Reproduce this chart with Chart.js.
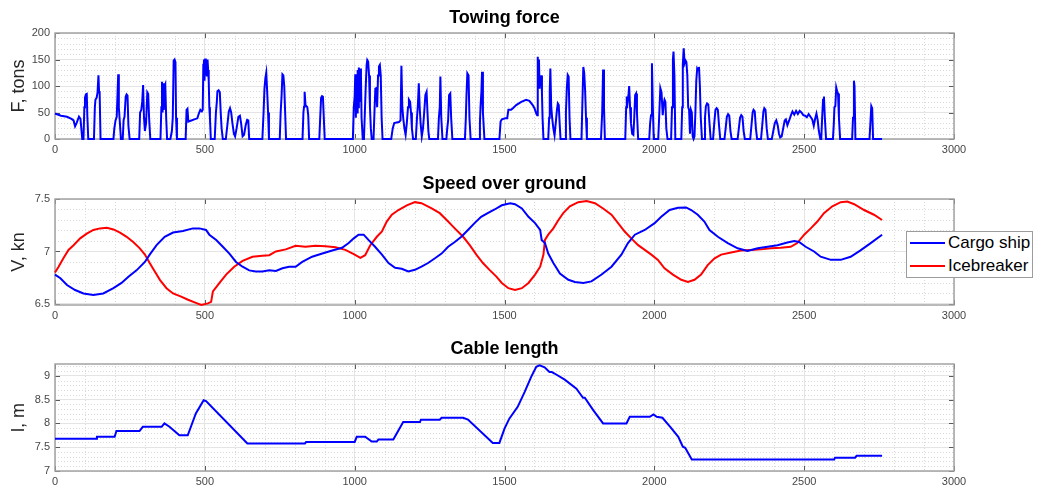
<!DOCTYPE html>
<html>
<head>
<meta charset="utf-8">
<script src="https://cdn.jsdelivr.net/npm/chart.js@4.4.1/dist/chart.umd.min.js"></script>
<style>
  html, body { margin: 0; padding: 0; background: #fff; }
  #wrap { position: relative; width: 1046px; height: 491px; overflow: hidden; background: #fff; }
  #wrap canvas { position: absolute; left: 0; }
  #legend {
    position: absolute; left: 906px; top: 231px; width: 127px; height: 47px;
    box-sizing: border-box; border: 1px solid #9c9c9c; background: #fff;
    font-family: 'Liberation Sans', Arial, Helvetica, sans-serif; font-size: 17px; color: #000;
  }
  #legend .row { display: flex; align-items: center; height: 22.6px; white-space: nowrap; }
  #legend .swatch { width: 35px; height: 2px; margin: 0 3px 0 3px; flex: none; }
</style>
</head>
<body>
<div id="wrap">
  <canvas id="forceChart" width="1046" height="159" style="top:0px"></canvas>
  <canvas id="speedChart" width="1046" height="166" style="top:159px"></canvas>
  <canvas id="cableChart" width="1046" height="166" style="top:325px"></canvas>
  <div id="legend"></div>
</div>
<script>
// Time axis shared by all three panels
const timeTicks = [0, 500, 1000, 1500, 2000, 2500, 3000];

// Towing force, tons: [time, force]
const towingForce = [
  [0,48],[20,44],[40,42],[55,38],[62,35],[67,24],[72,30],[80,42],[85,38],[91,0],
  [95,0],[98,60],[100,78],[103,84],[106,85],[108,42],[111,0],
  [130,0],[133,60],[135,74],[139,78],[142,88],[145,120],[147,90],[149,85],[152,0],
  [195,0],[198,20],[202,35],[206,42],[209,90],[211,122],[213,60],[216,35],[220,0],
  [226,0],[229,36],[232,42],[236,80],[239,84],[242,82],[245,25],[249,0],
  [281,0],[284,50],[288,55],[291,70],[294,102],[297,40],[300,15],[304,30],[308,88],[311,85],[314,40],[318,0],
  [352,0],[355,60],[357,108],[359,50],[361,105],[363,55],[366,100],[368,103],[371,40],[374,0],
  [385,0],[390,15],[393,40],[396,148],[399,150],[402,145],[404,40],[407,0],
  [436,0],[439,55],[442,57],[445,33],[455,35],[465,37],[475,39],[480,48],[485,55],[490,52],[493,55],
  [495,140],[497,150],[499,110],[501,152],[503,120],[505,150],[507,118],[509,150],[511,130],[513,110],[515,60],[517,40],[520,0],
  [533,0],[537,50],[540,70],[542,90],[546,92],[550,88],[553,50],[556,20],[560,0],
  [570,0],[575,25],[580,52],[584,58],[588,50],[592,30],[597,10],[601,5],[606,20],[612,42],[617,44],[621,30],[626,5],[631,8],[636,25],[641,36],[645,35],[648,0],
  [692,0],[696,50],[699,95],[702,115],[705,125],[708,90],[711,50],[714,0],
  [750,0],[753,50],[756,80],[759,122],[762,120],[765,100],[768,50],[771,0],
  [826,0],[829,50],[831,61],[833,89],[836,64],[839,62],[842,60],[845,45],[848,0],
  [882,0],[885,40],[888,78],[891,81],[894,80],[897,40],[900,0],
  [994,0],[997,60],[1000,80],[1002,122],[1004,40],[1006,118],[1008,50],[1010,130],[1012,60],[1014,135],[1016,70],[1018,133],[1021,120],[1023,40],[1027,0],
  [1031,0],[1034,50],[1037,100],[1040,140],[1042,149],[1045,146],[1048,120],[1051,60],[1054,20],[1057,0],
  [1063,0],[1066,50],[1069,95],[1072,96],[1075,60],[1078,120],[1081,137],[1084,140],[1087,120],[1090,40],[1093,0],
  [1122,0],[1127,20],[1132,30],[1140,31],[1148,32],[1153,35],[1156,138],[1159,60],[1162,40],[1166,20],[1170,8],[1174,30],[1178,60],[1181,74],[1185,70],[1188,50],[1191,20],[1195,0],
  [1204,0],[1208,40],[1211,64],[1214,105],[1217,60],[1220,30],[1224,5],[1228,20],[1232,50],[1236,83],[1240,89],[1243,50],[1246,15],[1249,0],
  [1278,0],[1281,40],[1284,60],[1286,118],[1289,40],[1293,0],
  [1306,0],[1309,20],[1312,36],[1315,83],[1319,86],[1322,40],[1326,0],
  [1368,0],[1371,40],[1373,80],[1376,124],[1380,120],[1383,40],[1387,0],
  [1415,0],[1418,30],[1420,61],[1423,90],[1425,127],[1428,50],[1433,0],
  [1483,0],[1487,33],[1491,37],[1503,39],[1509,39],[1513,55],[1522,55],[1528,58],[1539,64],[1556,70],[1572,74],[1583,72],[1594,64],[1600,58],[1606,48],[1609,45],
  [1611,155],[1613,110],[1615,150],[1617,95],[1619,118],[1621,100],[1623,120],[1625,86],[1627,40],[1630,0],
  [1646,0],[1649,40],[1651,90],[1653,133],[1656,60],[1659,40],[1663,20],[1667,7],[1671,30],[1675,55],[1678,67],[1681,64],[1684,30],[1687,0],
  [1702,0],[1705,50],[1708,96],[1711,121],[1714,118],[1717,40],[1720,0],
  [1757,0],[1760,70],[1763,136],[1766,125],[1769,92],[1772,40],[1775,0],
  [1822,0],[1826,50],[1829,131],[1832,60],[1835,0],
  [1903,0],[1906,60],[1908,80],[1911,70],[1914,85],[1916,100],[1919,60],[1922,30],[1926,10],[1930,8],[1933,40],[1936,83],[1939,86],[1942,50],[1946,0],
  [1983,0],[1986,30],[1989,45],[1992,143],[1995,60],[1998,0],
  [2013,0],[2016,40],[2020,96],[2024,88],[2028,45],[2031,65],[2034,74],[2037,70],[2040,20],[2044,0],
  [2056,0],[2059,60],[2062,150],[2064,165],[2067,120],[2070,0],
  [2090,0],[2093,60],[2095,140],[2098,171],[2101,143],[2104,148],[2107,145],[2110,121],[2113,60],[2116,55],[2119,10],[2122,55],[2125,50],[2128,5],[2131,0],
  [2134,5],[2137,50],[2140,110],[2143,133],[2146,130],[2149,136],[2152,100],[2155,40],[2159,0],
  [2166,0],[2169,40],[2172,62],[2176,67],[2180,65],[2184,30],[2188,0],
  [2196,0],[2200,30],[2204,55],[2208,58],[2212,55],[2216,25],[2220,0],
  [2234,0],[2238,20],[2242,42],[2246,47],[2250,44],[2254,15],[2258,0],
  [2278,0],[2282,20],[2286,40],[2290,45],[2294,42],[2298,15],[2302,0],
  [2320,0],[2324,25],[2328,50],[2331,55],[2335,52],[2339,20],[2343,0],
  [2356,0],[2360,25],[2364,52],[2367,58],[2371,55],[2375,20],[2379,0],
  [2392,0],[2397,15],[2402,30],[2407,35],[2412,25],[2416,10],[2420,3],[2425,5],[2430,20],[2435,35],[2439,37],[2444,26],[2450,35],[2456,45],[2461,52],
  [2467,46],[2473,53],[2479,47],[2485,53],[2491,50],[2497,45],[2503,44],[2509,41],[2515,47],[2521,42],[2527,37],[2532,25],[2537,39],[2541,48],[2545,36],[2549,15],[2554,0],
  [2557,0],[2560,40],[2563,74],[2566,80],[2569,40],[2573,0],
  [2596,0],[2599,30],[2601,60],[2604,62],[2607,97],[2610,90],[2613,86],[2616,40],[2620,0],
  [2660,0],[2663,40],[2666,110],[2668,100],[2671,0],
  [2718,0],[2721,30],[2724,62],[2727,58],[2730,0],
  [2760,0]
];
const forceTicks = [0, 50, 100, 150, 200];

// Speed over ground, kn: [time, speed]
const cargoShipSpeed = [
  [0,6.78],[18,6.745],[40,6.68],[67,6.633],[95,6.60],[128,6.585],[161,6.60],[195,6.65],[222,6.70],[245,6.76],
  [272,6.82],[300,6.90],[316,6.97],[339,7.06],[366,7.14],[394,7.18],[427,7.195],[460,7.22],[482,7.22],[504,7.205],
  [515,7.16],[538,7.11],[560,7.045],[582,6.98],[604,6.90],[626,6.855],[648,6.82],[670,6.81],[692,6.81],[715,6.82],
  [737,6.815],[759,6.84],[781,6.855],[803,6.855],[825,6.90],[858,6.95],[892,6.98],[925,7.01],[958,7.035],[980,7.08],
  [997,7.125],[1013,7.16],[1030,7.16],[1046,7.11],[1068,7.045],[1091,6.97],[1113,6.89],[1135,6.845],[1157,6.835],[1179,6.81],
  [1201,6.825],[1223,6.855],[1245,6.89],[1268,6.935],[1290,6.98],[1312,7.045],[1334,7.09],[1356,7.14],[1378,7.205],[1400,7.27],
  [1422,7.33],[1444,7.365],[1467,7.40],[1491,7.44],[1519,7.46],[1535,7.45],[1558,7.41],[1580,7.33],[1602,7.27],[1619,7.205],
  [1624,7.11],[1635,7.08],[1646,6.98],[1663,6.89],[1685,6.79],[1713,6.73],[1735,6.71],[1763,6.70],[1790,6.715],[1824,6.78],
  [1857,6.855],[1890,6.97],[1912,7.08],[1935,7.16],[1968,7.205],[2001,7.27],[2023,7.33],[2051,7.395],[2079,7.417],[2106,7.42],
  [2123,7.395],[2145,7.35],[2167,7.285],[2184,7.205],[2212,7.14],[2245,7.08],[2278,7.03],[2311,7.005],[2345,7.03],[2378,7.045],
  [2411,7.06],[2444,7.085],[2467,7.10],[2483,7.09],[2505,7.045],[2533,7.0],[2555,6.95],[2589,6.92],[2622,6.92],[2655,6.95],
  [2688,7.01],[2722,7.08],[2760,7.16]
];
const icebreakerSpeed = [
  [0,6.80],[12,6.855],[28,6.935],[45,7.015],[62,7.06],[84,7.125],[106,7.17],[128,7.205],[150,7.22],[173,7.225],
  [195,7.21],[217,7.18],[239,7.14],[261,7.09],[283,7.03],[300,6.97],[316,6.89],[333,6.81],[350,6.73],[372,6.65],
  [394,6.60],[421,6.57],[444,6.54],[466,6.515],[488,6.49],[510,6.505],[521,6.52],[527,6.62],[549,6.70],[571,6.78],
  [598,6.855],[626,6.91],[659,6.95],[692,6.96],[715,6.965],[737,7.0],[770,7.02],[803,7.055],[836,7.045],[869,7.055],
  [903,7.05],[936,7.04],[969,7.015],[997,6.975],[1019,6.94],[1035,6.965],[1052,7.06],[1074,7.14],[1091,7.19],[1107,7.285],
  [1124,7.35],[1146,7.395],[1174,7.44],[1201,7.47],[1223,7.46],[1257,7.41],[1284,7.365],[1312,7.285],[1334,7.22],[1362,7.14],
  [1384,7.06],[1406,6.97],[1428,6.89],[1450,6.825],[1473,6.76],[1491,6.70],[1513,6.65],[1535,6.633],[1558,6.65],[1580,6.70],
  [1602,6.78],[1619,6.855],[1630,6.97],[1635,7.11],[1646,7.16],[1663,7.22],[1680,7.30],[1696,7.365],[1718,7.43],[1746,7.47],
  [1774,7.48],[1802,7.46],[1829,7.41],[1857,7.35],[1879,7.27],[1901,7.19],[1923,7.125],[1946,7.06],[1968,7.015],[1990,6.97],
  [2012,6.92],[2034,6.84],[2062,6.78],[2090,6.73],[2112,6.71],[2134,6.73],[2156,6.78],[2178,6.87],[2201,6.935],[2223,6.97],
  [2256,6.99],[2289,7.01],[2322,7.015],[2356,7.02],[2389,7.03],[2422,7.035],[2455,7.045],[2477,7.08],[2500,7.16],[2522,7.22],
  [2544,7.285],[2566,7.365],[2594,7.43],[2622,7.47],[2644,7.475],[2667,7.45],[2700,7.395],[2733,7.35],[2760,7.30]
];
const speedTicks = [6.5, 7, 7.5];

// Cable length, m: [time, length]
const cableLength = [
  [0,7.68],[138,7.68],[140,7.72],[199,7.72],[205,7.84],[282,7.84],[293,7.93],[356,7.93],[365,8.00],[382,7.93],
  [415,7.75],[443,7.75],[470,8.21],[496,8.49],[504,8.47],[642,7.58],[834,7.58],[838,7.61],[1000,7.61],[1007,7.72],
  [1035,7.72],[1057,7.62],[1074,7.62],[1079,7.66],[1129,7.66],[1162,8.03],[1218,8.03],[1221,8.08],[1284,8.08],[1290,8.12],
  [1362,8.12],[1378,8.08],[1461,7.59],[1483,7.59],[1500,7.89],[1516,8.10],[1544,8.35],[1567,8.66],[1589,8.98],[1606,9.19],
  [1617,9.22],[1634,9.18],[1650,9.08],[1658,9.08],[1667,9.05],[1701,8.92],[1740,8.73],[1762,8.54],[1768,8.54],[1796,8.28],
  [1829,8.00],[1907,8.00],[1918,8.14],[1985,8.14],[1997,8.19],[2008,8.14],[2027,8.12],[2053,7.93],[2080,7.72],[2095,7.51],
  [2103,7.49],[2125,7.24],[2600,7.24],[2603,7.28],[2670,7.28],[2675,7.32],[2760,7.32]
];
const cableTicks = [7, 7.5, 8, 8.5, 9];

const FONT = "'Liberation Sans', Arial, Helvetica, sans-serif";
Chart.defaults.font.family = FONT;

const toPoints = pairs => pairs.map(([x, y]) => ({ x, y }));

// Box, inward ticks and dotted minor grid in the style of a classic engineering plot
const frame = {
  id: 'frame',
  beforeDatasetsDraw(chart, args, opts) {
    const { ctx, chartArea: a, scales: { x, y } } = chart;
    const L = Math.round(a.left), R = Math.round(a.right), T = Math.round(a.top), B = Math.round(a.bottom);
    const isMajor = (v, list) => list.some(t => Math.abs(t - v) < 1e-6);
    ctx.save();
    // minor grid
    ctx.strokeStyle = '#d9d9d9';
    ctx.lineWidth = 1;
    ctx.setLineDash([1, 2]);
    ctx.beginPath();
    for (let i = Math.ceil(x.min / opts.xMinor); i * opts.xMinor <= x.max + 1e-9; i++) {
      const v = i * opts.xMinor;
      if (isMajor(v, opts.xTicks)) continue;
      const px = Math.round(x.getPixelForValue(v)) + 0.5;
      ctx.moveTo(px, T); ctx.lineTo(px, B);
    }
    for (let i = Math.ceil(y.min / opts.yMinor - 1e-6); i * opts.yMinor <= y.max + 1e-9; i++) {
      const v = +(i * opts.yMinor).toFixed(6);
      if (isMajor(v, opts.yTicks)) continue;
      const py = Math.round(y.getPixelForValue(v)) + 0.5;
      ctx.moveTo(L, py); ctx.lineTo(R, py);
    }
    ctx.stroke();
    ctx.setLineDash([]);
    // inward tick marks
    ctx.strokeStyle = '#5a5a5a';
    ctx.beginPath();
    opts.xTicks.forEach(v => {
      const px = Math.round(x.getPixelForValue(v)) + 0.5;
      ctx.moveTo(px, B); ctx.lineTo(px, B - 5);
      ctx.moveTo(px, T); ctx.lineTo(px, T + 5);
    });
    opts.yTicks.forEach(v => {
      const py = Math.round(y.getPixelForValue(v)) + 0.5;
      ctx.moveTo(L, py); ctx.lineTo(L + 5, py);
      ctx.moveTo(R, py); ctx.lineTo(R - 5, py);
    });
    ctx.stroke();
    // axes box
    ctx.strokeStyle = '#a3a3a3';
    ctx.lineWidth = 1.5;
    ctx.strokeRect(L, T, R - L, B - T);
    ctx.restore();
  }
};

function buildPanel(canvasId, o) {
  return new Chart(document.getElementById(canvasId), {
    type: 'line',
    data: { datasets: o.datasets },
    options: {
      responsive: false,
      animation: false,
      devicePixelRatio: 1,
      layout: { padding: { left: 0, right: 92, top: 0, bottom: 0 } },
      elements: { point: { radius: 0 }, line: { borderWidth: 2, tension: 0 } },
      plugins: {
        legend: { display: false },
        tooltip: { enabled: false },
        title: {
          display: true, text: o.title, fullSize: false, color: '#000',
          font: { size: 18, weight: 'bold' },
          padding: { top: o.titleTop, bottom: 4 }
        },
        frame: { xMinor: 100, yMinor: o.yMinor, xTicks: timeTicks, yTicks: o.yTicks }
      },
      scales: {
        x: {
          type: 'linear', min: 0, max: 3000,
          afterBuildTicks: s => { s.ticks = timeTicks.map(v => ({ value: v })); },
          afterFit: s => { s.height = 20; },
          grid: { color: '#e4e4e4', drawTicks: false },
          border: { display: false },
          ticks: { padding: 4, color: '#474747', font: { size: 11 }, maxRotation: 0, autoSkip: false, callback: v => String(v) }
        },
        y: {
          type: 'linear', min: o.yMin, max: o.yMax,
          afterBuildTicks: s => { s.ticks = o.yTicks.map(v => ({ value: v })); },
          afterFit: s => { s.width = 55; },
          grid: { color: '#e4e4e4', drawTicks: false },
          border: { display: false },
          ticks: { padding: 5, color: '#474747', font: { size: 11 }, autoSkip: false, callback: v => String(v) },
          title: { display: true, text: o.yTitle, color: '#262626', font: { size: 18 }, padding: { top: 8, bottom: 0 } }
        }
      }
    },
    plugins: [frame]
  });
}

buildPanel('forceChart', {
  title: 'Towing force', titleTop: 7.4, yTitle: 'F, tons',
  yMin: 0, yMax: 200, yTicks: forceTicks, yMinor: 10,
  datasets: [{ label: 'Towing force', data: toPoints(towingForce), borderColor: '#0000ff', borderWidth: 2, clip: 4 }]
});

const speedChart = buildPanel('speedChart', {
  title: 'Speed over ground', titleTop: 14.4, yTitle: 'V, kn',
  yMin: 6.49, yMax: 7.5, yTicks: speedTicks, yMinor: 0.1,
  datasets: [
    { label: 'Cargo ship', data: toPoints(cargoShipSpeed), borderColor: '#0000ff', borderWidth: 2, clip: 4 },
    { label: 'Icebreaker', data: toPoints(icebreakerSpeed), borderColor: '#ff0000', borderWidth: 2, clip: 4 }
  ]
});

buildPanel('cableChart', {
  title: 'Cable length', titleTop: 13.4, yTitle: 'l, m',
  yMin: 7, yMax: 9.25, yTicks: cableTicks, yMinor: 0.1,
  datasets: [{ label: 'Cable length', data: toPoints(cableLength), borderColor: '#0000ff', borderWidth: 2, clip: 4 }]
});

// Legend for the speed panel, built from its datasets
const legend = document.getElementById('legend');
speedChart.data.datasets.forEach(ds => {
  const row = document.createElement('div');
  row.className = 'row';
  const sw = document.createElement('span');
  sw.className = 'swatch';
  sw.style.background = ds.borderColor;
  const txt = document.createElement('span');
  txt.textContent = ds.label;
  row.appendChild(sw);
  row.appendChild(txt);
  legend.appendChild(row);
});
</script>
</body>
</html>
